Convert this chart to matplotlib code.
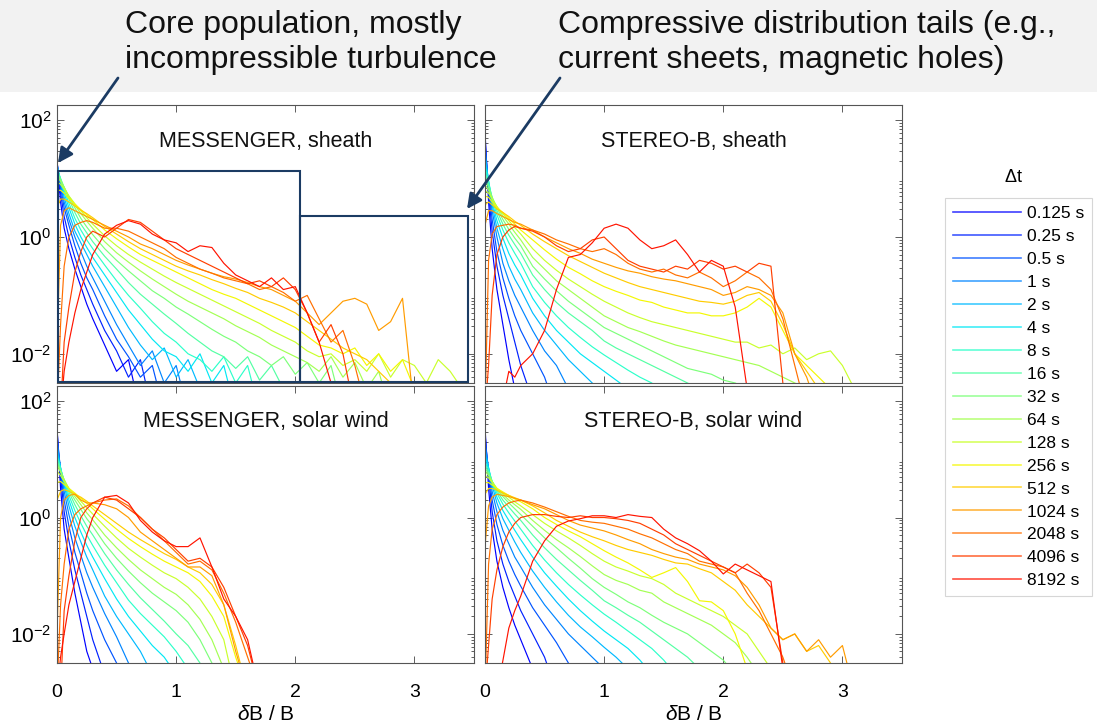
"""PDFs of dB/B for a range of time lags, MESSENGER vs STEREO-B, sheath vs solar wind."""
import numpy as np
import matplotlib
matplotlib.use("Agg")
import matplotlib.pyplot as plt
from matplotlib.patches import Rectangle, FancyArrowPatch
from matplotlib.lines import Line2D
from matplotlib.ticker import LogLocator, NullFormatter, FixedLocator

plt.rcParams['font.family'] = ['Liberation Sans', 'DejaVu Sans']
plt.rcParams['mathtext.fontset'] = 'custom'
plt.rcParams['mathtext.rm'] = 'Liberation Sans'
plt.rcParams['mathtext.it'] = 'Liberation Sans:italic'

W, H = 1097, 722
NAVY = "#1b3b63"

DT_LABELS = ["0.125 s", "0.25 s", "0.5 s", "1 s", "2 s", "4 s", "8 s", "16 s",
             "32 s", "64 s", "128 s", "256 s", "512 s", "1024 s", "2048 s",
             "4096 s", "8192 s"]

# dB/B sample points shared by all curves
X_GRID = [0, 0.03, 0.06, 0.1, 0.15, 0.2, 0.25, 0.3, 0.4, 0.5, 0.6, 0.7, 0.8,
          0.9, 1.0, 1.1, 1.2, 1.3, 1.4, 1.5, 1.6, 1.7, 1.8, 1.9, 2.0, 2.1,
          2.2, 2.3, 2.4, 2.5, 2.6, 2.7, 2.8, 2.9, 3.0, 3.1, 3.2, 3.3, 3.4]

# log10(PDF), one row per time lag (a row stops where
# the curve leaves the bottom of the axes)
mes_sheath = [
    [1.3, 0.6, 0.15, -0.2, -0.55, -0.85, -1.15, -1.4, -1.85, -2.3, -2.1, -3],
    [1.3, 0.75, 0.35, 0.0, -0.35, -0.65, -0.9, -1.15, -1.6, -1.95, -2.4, -2.1, -3],
    [1.28, 0.85, 0.5, 0.2, -0.15, -0.45, -0.7, -0.9, -1.35, -1.75, -2.05, -2.4, -2.2, -3],
    [1.25, 0.9, 0.6, 0.3, 0.0, -0.25, -0.5, -0.7, -1.1, -1.5, -1.85, -2.2, -1.95, -2.5, -2.2, -3],
    [1.22, 0.95, 0.68, 0.4, 0.1, -0.1, -0.3, -0.5, -0.85, -1.2, -1.55, -1.85, -2.1, -1.9, -2.4, -2.1, -2.6, -3],
    [1.2, 0.98, 0.75, 0.5, 0.22, 0.0, -0.18, -0.35, -0.65, -0.95, -1.25, -1.5, -1.75, -1.95, -2.05, -2.3, -2.0, -2.5, -2.2, -3],
    [1.18, 1.0, 0.8, 0.58, 0.32, 0.12, -0.05, -0.2, -0.48, -0.75, -1.0, -1.22, -1.45, -1.65, -1.8, -2.0, -2.1, -2.3, -2.05, -2.5, -2.2, -3],
    [1.15, 1.0, 0.85, 0.65, 0.42, 0.22, 0.07, -0.08, -0.33, -0.55, -0.78, -0.98, -1.15, -1.32, -1.48, -1.65, -1.8, -1.95, -2.05, -2.25, -2.05, -2.45, -2.2, -2.6, -3],
    [1.1, 0.98, 0.85, 0.68, 0.5, 0.32, 0.17, 0.04, -0.2, -0.4, -0.58, -0.75, -0.92, -1.05, -1.2, -1.32, -1.45, -1.58, -1.7, -1.8, -1.95, -2.05, -2.2, -2.05, -2.35, -2.15, -2.5, -2.2, -3],
    [1.05, 0.95, 0.85, 0.7, 0.55, 0.4, 0.27, 0.15, -0.08, -0.27, -0.43, -0.58, -0.72, -0.85, -0.98, -1.1, -1.2, -1.3, -1.4, -1.52, -1.62, -1.72, -1.85, -1.95, -2.05, -2.15, -2.3, -2.05, -2.4, -2.15, -2.6, -2.3, -3],
    [0.95, 0.9, 0.82, 0.7, 0.57, 0.45, 0.33, 0.22, 0.02, -0.15, -0.3, -0.43, -0.55, -0.67, -0.78, -0.88, -0.98, -1.08, -1.18, -1.28, -1.38, -1.48, -1.6, -1.7, -1.8, -1.95, -2.05, -2.0, -2.2, -2.1, -2.3, -2.0, -2.4, -2.1, -2.2, -2.5, -2.1, -2.3, -2.6],
    [0.8, 0.8, 0.75, 0.66, 0.56, 0.47, 0.38, 0.3, 0.12, -0.03, -0.17, -0.3, -0.4, -0.5, -0.6, -0.7, -0.8, -0.9, -0.98, -1.05, -1.15, -1.25, -1.35, -1.45, -1.55, -1.7, -1.85, -1.9, -2.0, -1.9, -2.2, -2.0, -2.3, -2.1, -2.6, -3],
    [0.5, 0.65, 0.65, 0.6, 0.53, 0.46, 0.4, 0.33, 0.18, 0.05, -0.08, -0.2, -0.3, -0.4, -0.5, -0.58, -0.65, -0.73, -0.8, -0.88, -0.95, -1.05, -1.12, -1.2, -1.3, -1.45, -1.6, -1.75, -1.9, -2.0, -2.1, -2.3, -2.5, -3],
    [-2.0, 0.2, 0.45, 0.5, 0.45, 0.4, 0.35, 0.3, 0.2, 0.1, 0.0, -0.12, -0.2, -0.3, -0.4, -0.48, -0.55, -0.62, -0.68, -0.72, -0.78, -0.85, -0.9, -1.0, -1.1, -1.3, -1.5, -1.3, -1.1, -1.05, -1.15, -1.6, -1.45, -1.05, -3],
    [-3, -1.5, -0.5, 0.0, 0.2, 0.25, 0.28, 0.25, 0.15, 0.15, 0.1, 0.0, -0.1, -0.2, -0.35, -0.45, -0.55, -0.62, -0.7, -0.75, -0.8, -0.9, -0.85, -0.95, -1.1, -1.0, -1.4, -1.8, -1.6, -2.2, -3],
    [-3, -3, -1.8, -1.2, -0.6, -0.25, 0.0, 0.1, 0.0, 0.15, 0.3, 0.25, 0.1, -0.05, -0.2, -0.3, -0.4, -0.5, -0.6, -0.7, -0.8, -0.75, -0.85, -0.7, -0.9, -1.3, -1.8, -1.5, -2.0, -3],
    [-3, -3, -2.3, -1.8, -1.3, -0.9, -0.6, -0.3, 0.05, 0.2, 0.28, 0.22, 0.05, -0.05, -0.1, -0.25, -0.15, -0.18, -0.45, -0.65, -0.75, -0.85, -0.7, -0.9, -0.85, -1.3, -1.8, -2.5, -3],
]

stb_sheath = [
    [1.8, 0.6, -0.2, -0.9, -1.5, -2.1, -2.6, -3],
    [1.7, 0.75, 0.1, -0.5, -1.0, -1.4, -1.8, -2.2, -2.8, -3],
    [1.6, 0.85, 0.3, -0.25, -0.7, -1.05, -1.35, -1.6, -2.0, -2.4, -3],
    [1.5, 0.9, 0.45, 0.0, -0.45, -0.75, -1.0, -1.2, -1.6, -1.95, -2.2, -2.6, -3],
    [1.4, 0.95, 0.55, 0.15, -0.2, -0.5, -0.72, -0.9, -1.3, -1.6, -1.85, -2.1, -2.3, -2.5, -2.7, -3],
    [1.3, 0.95, 0.6, 0.28, -0.02, -0.28, -0.48, -0.65, -1.05, -1.35, -1.6, -1.8, -2.0, -2.15, -2.3, -2.45, -2.6, -3],
    [1.2, 0.95, 0.65, 0.38, 0.12, -0.1, -0.28, -0.45, -0.85, -1.12, -1.35, -1.55, -1.72, -1.88, -2.02, -2.15, -2.28, -2.4, -2.5, -2.7, -3],
    [1.1, 0.9, 0.68, 0.45, 0.22, 0.03, -0.13, -0.28, -0.65, -0.9, -1.12, -1.3, -1.45, -1.6, -1.78, -1.9, -2.0, -2.1, -2.2, -2.3, -2.4, -2.5, -2.6, -2.8, -3],
    [1.0, 0.85, 0.68, 0.5, 0.3, 0.13, -0.02, -0.15, -0.5, -0.72, -0.92, -1.1, -1.25, -1.4, -1.55, -1.65, -1.75, -1.85, -1.95, -2.05, -2.15, -2.25, -2.3, -2.35, -2.45, -2.5, -2.6, -2.7, -2.9, -3],
    [0.9, 0.8, 0.66, 0.52, 0.36, 0.22, 0.08, -0.05, -0.35, -0.55, -0.75, -0.9, -1.05, -1.2, -1.35, -1.45, -1.55, -1.62, -1.7, -1.78, -1.85, -1.9, -1.95, -2.0, -2.05, -2.1, -2.15, -2.2, -2.3, -2.4, -2.5, -2.6, -2.8, -3],
    [0.8, 0.75, 0.65, 0.52, 0.4, 0.28, 0.16, 0.05, -0.2, -0.4, -0.57, -0.72, -0.85, -0.98, -1.1, -1.2, -1.3, -1.38, -1.45, -1.5, -1.55, -1.6, -1.65, -1.7, -1.75, -1.8, -1.8, -1.9, -1.85, -2.0, -1.9, -2.1, -2.0, -1.95, -2.2, -2.6, -3],
    [0.7, 0.68, 0.6, 0.5, 0.42, 0.32, 0.22, 0.12, -0.05, -0.22, -0.38, -0.52, -0.63, -0.75, -0.85, -0.93, -1.0, -1.08, -1.12, -1.2, -1.25, -1.3, -1.3, -1.35, -1.35, -1.3, -1.2, -1.05, -1.2, -1.6, -2.0, -2.2, -2.4, -2.6, -3],
    [0.55, 0.6, 0.55, 0.48, 0.42, 0.35, 0.27, 0.2, 0.05, -0.08, -0.2, -0.32, -0.42, -0.52, -0.62, -0.7, -0.78, -0.85, -0.9, -0.95, -1.0, -1.05, -1.1, -1.12, -1.15, -1.1, -1.0, -0.95, -1.1, -1.5, -2.0, -2.3, -2.6, -3],
    [0.2, 0.45, 0.45, 0.4, 0.35, 0.3, 0.25, 0.22, 0.12, 0.0, -0.1, -0.2, -0.28, -0.38, -0.45, -0.52, -0.58, -0.62, -0.68, -0.72, -0.75, -0.8, -0.85, -0.9, -1.0, -0.95, -0.85, -0.9, -1.0, -1.3, -2.0, -2.4, -3],
    [-3, -0.4, 0.05, 0.18, 0.2, 0.22, 0.2, 0.15, 0.12, 0.05, -0.05, -0.12, -0.2, -0.25, -0.2, -0.3, -0.45, -0.55, -0.6, -0.55, -0.65, -0.7, -0.6, -0.7, -0.85, -0.75, -0.6, -0.7, -0.9, -1.4, -2.2, -3],
    [-3, -2.2, -1.0, -0.3, 0.0, 0.12, 0.18, 0.15, 0.1, 0.0, -0.15, -0.25, -0.2, -0.05, 0.0, -0.2, -0.4, -0.5, -0.55, -0.6, -0.5, -0.55, -0.4, -0.45, -0.55, -0.5, -0.6, -0.45, -0.5, -2.5, -3],
    [-3, -3, -3, -3, -2.8, -2.3, -2.4, -2.2, -2.0, -1.6, -0.9, -0.35, -0.3, -0.1, 0.15, 0.22, 0.15, -0.05, -0.2, -0.15, -0.05, -0.3, -0.6, -0.4, -0.5, -1.2, -2.6, -3],
]

mes_wind = [
    [1.55, 0.5, -0.2, -0.7, -1.3, -1.8, -2.3, -2.6, -3],
    [1.5, 0.7, 0.1, -0.4, -0.9, -1.3, -1.7, -2.1, -2.7, -3],
    [1.4, 0.8, 0.3, -0.15, -0.6, -0.95, -1.3, -1.6, -2.1, -2.5, -3],
    [1.3, 0.85, 0.45, 0.05, -0.35, -0.65, -0.95, -1.2, -1.65, -2.05, -2.5, -3],
    [1.2, 0.85, 0.55, 0.2, -0.15, -0.42, -0.68, -0.9, -1.35, -1.7, -2.0, -2.3, -2.7, -3],
    [1.1, 0.85, 0.6, 0.3, 0.0, -0.25, -0.48, -0.68, -1.05, -1.4, -1.7, -1.95, -2.2, -2.4, -2.7, -3],
    [1.05, 0.85, 0.62, 0.38, 0.12, -0.1, -0.3, -0.48, -0.82, -1.12, -1.42, -1.65, -1.85, -2.05, -2.3, -2.6, -3],
    [1.0, 0.82, 0.64, 0.44, 0.22, 0.03, -0.15, -0.3, -0.62, -0.9, -1.15, -1.38, -1.58, -1.78, -2.0, -2.2, -2.5, -3],
    [0.95, 0.8, 0.65, 0.48, 0.3, 0.14, -0.02, -0.15, -0.45, -0.7, -0.92, -1.12, -1.3, -1.45, -1.6, -1.8, -2.1, -2.5, -3],
    [0.9, 0.78, 0.65, 0.5, 0.36, 0.22, 0.08, -0.04, -0.3, -0.52, -0.72, -0.9, -1.05, -1.2, -1.32, -1.5, -1.75, -2.1, -2.6, -3],
    [0.8, 0.72, 0.62, 0.5, 0.4, 0.28, 0.17, 0.06, -0.15, -0.35, -0.53, -0.68, -0.82, -0.95, -1.05, -1.2, -1.4, -1.7, -2.1, -3],
    [0.6, 0.62, 0.57, 0.5, 0.42, 0.33, 0.25, 0.15, -0.03, -0.2, -0.36, -0.5, -0.63, -0.75, -0.85, -0.95, -1.1, -1.35, -1.7, -2.4, -3],
    [0.3, 0.45, 0.48, 0.45, 0.4, 0.35, 0.28, 0.2, 0.05, -0.1, -0.25, -0.38, -0.5, -0.62, -0.72, -0.85, -0.95, -1.15, -1.5, -2.2, -3],
    [-2.0, 0.0, 0.3, 0.38, 0.4, 0.3, 0.25, 0.25, 0.22, 0.15, 0.0, -0.25, -0.4, -0.55, -0.7, -0.85, -0.85, -1.0, -1.5, -2.3, -3],
    [-3, -1.5, -0.8, -0.2, 0.05, 0.15, 0.2, 0.25, 0.3, 0.32, 0.2, 0.0, -0.2, -0.4, -0.6, -0.8, -0.75, -0.9, -1.3, -1.8, -2.4, -3],
    [-3, -3, -1.6, -1.0, -0.4, 0.0, 0.15, 0.25, 0.35, 0.3, 0.15, 0.0, -0.2, -0.35, -0.55, -0.75, -0.7, -0.85, -1.2, -1.7, -2.2, -3],
    [-3, -2.4, -2.0, -1.5, -1.1, -0.7, -0.3, 0.0, 0.35, 0.38, 0.25, -0.05, -0.25, -0.4, -0.5, -0.5, -0.35, -0.85, -1.4, -1.7, -2.1, -3],
]

stb_wind = [
    [1.55, 0.5, -0.2, -0.75, -1.2, -1.55, -1.85, -2.1, -2.6, -3],
    [1.45, 0.7, 0.1, -0.4, -0.8, -1.1, -1.35, -1.6, -2.0, -2.4, -3],
    [1.35, 0.8, 0.3, -0.12, -0.48, -0.75, -0.98, -1.18, -1.55, -1.85, -2.15, -2.5, -3],
    [1.25, 0.85, 0.45, 0.1, -0.22, -0.45, -0.68, -0.85, -1.2, -1.5, -1.75, -2.0, -2.2, -2.4, -2.6, -3],
    [1.15, 0.85, 0.55, 0.25, -0.02, -0.22, -0.42, -0.6, -0.92, -1.2, -1.45, -1.68, -1.88, -2.05, -2.23, -2.4, -2.6, -3],
    [1.05, 0.85, 0.6, 0.35, 0.12, -0.05, -0.22, -0.38, -0.68, -0.95, -1.18, -1.4, -1.6, -1.78, -1.95, -2.1, -2.25, -2.45, -2.7, -3],
    [0.95, 0.82, 0.62, 0.42, 0.23, 0.08, -0.06, -0.2, -0.48, -0.73, -0.95, -1.15, -1.33, -1.5, -1.66, -1.8, -1.95, -2.1, -2.25, -2.45, -2.7, -3],
    [0.9, 0.78, 0.62, 0.46, 0.3, 0.18, 0.06, -0.05, -0.3, -0.52, -0.72, -0.9, -1.08, -1.25, -1.43, -1.55, -1.68, -1.8, -1.95, -2.1, -2.25, -2.4, -2.6, -2.8, -3],
    [0.85, 0.75, 0.62, 0.48, 0.36, 0.25, 0.15, 0.05, -0.15, -0.35, -0.52, -0.7, -0.87, -1.05, -1.2, -1.32, -1.45, -1.55, -1.68, -1.8, -1.9, -2.0, -2.15, -2.3, -2.45, -2.7, -3],
    [0.8, 0.72, 0.62, 0.5, 0.4, 0.3, 0.22, 0.14, -0.05, -0.22, -0.38, -0.52, -0.67, -0.83, -0.98, -1.08, -1.15, -1.25, -1.3, -1.45, -1.55, -1.65, -1.75, -1.85, -2.0, -2.15, -2.4, -2.7, -3],
    [0.72, 0.68, 0.6, 0.5, 0.42, 0.35, 0.27, 0.2, 0.05, -0.1, -0.23, -0.35, -0.48, -0.62, -0.75, -0.85, -0.92, -1.0, -1.05, -1.15, -1.3, -1.4, -1.5, -1.6, -1.7, -1.85, -2.0, -2.3, -2.6, -3],
    [0.6, 0.6, 0.56, 0.5, 0.44, 0.38, 0.32, 0.27, 0.15, 0.0, -0.12, -0.23, -0.33, -0.45, -0.57, -0.68, -0.78, -0.9, -1.03, -0.95, -0.86, -1.1, -1.43, -1.45, -1.6, -2.0, -2.6, -3],
    [0.4, 0.5, 0.5, 0.47, 0.42, 0.38, 0.34, 0.3, 0.2, 0.08, -0.05, -0.15, -0.25, -0.33, -0.4, -0.48, -0.55, -0.6, -0.65, -0.72, -0.78, -0.8, -0.88, -0.95, -1.1, -1.25, -1.5, -1.7, -1.9, -2.1, -2.0, -2.3, -2.2, -2.5, -3],
    [-0.5, 0.2, 0.35, 0.4, 0.38, 0.36, 0.33, 0.3, 0.22, 0.15, 0.05, -0.05, -0.13, -0.18, -0.23, -0.3, -0.38, -0.45, -0.55, -0.62, -0.68, -0.72, -0.8, -0.85, -0.9, -1.0, -1.2, -1.5, -1.9, -2.1, -2.0, -2.3, -2.1, -2.4, -2.2, -3],
    [-3, -0.8, -0.2, 0.05, 0.18, 0.25, 0.28, 0.3, 0.25, 0.18, 0.1, 0.02, -0.05, -0.08, -0.1, -0.15, -0.2, -0.28, -0.35, -0.45, -0.55, -0.62, -0.75, -0.8, -0.85, -0.95, -1.3, -1.6, -2.0, -2.4, -3],
    [-3, -2.2, -1.4, -0.9, -0.5, -0.25, -0.1, 0.0, 0.05, 0.05, 0.02, 0.0, 0.03, 0.0, 0.0, -0.02, -0.05, -0.1, -0.2, -0.3, -0.45, -0.55, -0.65, -0.75, -0.85, -0.95, -0.8, -0.95, -1.2, -2.5, -3],
    [-3, -3, -3, -3, -2.46, -1.9, -1.6, -1.35, -0.75, -0.4, -0.15, -0.06, -0.02, 0.03, 0.03, 0.0, 0.05, 0.02, 0.0, -0.2, -0.35, -0.45, -0.57, -0.75, -0.97, -0.8, -0.9, -1.0, -1.1, -2.6, -3],
]

PANELS = [
    # data, title, (left, top, right, bottom) in pixels, y labels, x labels
    (mes_sheath, "MESSENGER, sheath", (57, 105, 474, 383), True, False),
    (stb_sheath, "STEREO-B, sheath", (485, 105, 902, 383), False, False),
    (mes_wind, "MESSENGER, solar wind", (57, 386, 474, 663), True, True),
    (stb_wind, "STEREO-B, solar wind", (485, 386, 902, 663), False, True),
]

YMIN, YMAX = 10 ** -2.5, 10 ** 2.26
colors = plt.cm.jet(np.linspace(0.11, 0.89, len(DT_LABELS)))


def fx(px):
    return px / W


def fy(py):
    return 1 - py / H


fig = plt.figure(figsize=(W / 100, H / 100), dpi=100)
fig.patches.append(Rectangle((0, fy(92)), 1, 1 - fy(92), transform=fig.transFigure,
                             facecolor="#f2f2f2", edgecolor="none", zorder=-10))

axes = []
for data, title, (l, t, r, b), ylab, xlab in PANELS:
    ax = fig.add_axes([fx(l), fy(b), fx(r) - fx(l), fy(t) - fy(b)])
    for i, row in enumerate(data):
        ax.plot(X_GRID[:len(row)], 10 ** np.array(row), color=colors[i], lw=0.85)
    ax.set_yscale("log")
    ax.set_xlim(0, 3.5)
    ax.set_ylim(YMIN, YMAX)
    ax.xaxis.set_major_locator(FixedLocator([0, 1, 2, 3]))
    ax.yaxis.set_major_locator(FixedLocator([1e-2, 1e0, 1e2]))
    ax.yaxis.set_minor_locator(LogLocator(base=10, subs=np.arange(2, 10)))
    ax.yaxis.set_minor_formatter(NullFormatter())
    ax.tick_params(which="both", direction="in", top=True, right=True,
                   color="#444444", width=0.6)
    ax.tick_params(which="major", length=5)
    ax.tick_params(which="minor", length=2.5)
    ax.tick_params(axis="x", labelsize=14, pad=15)
    ax.tick_params(axis="y", labelsize=15, pad=4)
    if ylab:
        ax.set_yticklabels([r"$10^{-2}$", r"$10^{0}$", r"$10^{2}$"])
    else:
        ax.set_yticklabels([])
    if xlab:
        ax.set_xticklabels(["0", "1", "2", "3"])
        ax.set_xlabel(r"$\delta$B / B", fontsize=15, labelpad=3)
    else:
        ax.set_xticklabels([])
    for sp in ax.spines.values():
        sp.set_color("#555555")
        sp.set_linewidth(0.8)
    ax.text(0.5, 1 - 36 / (b - t), title, transform=ax.transAxes, ha="center",
            va="center", fontsize=15.5, color="#111111")
    axes.append(ax)

# highlight boxes in the MESSENGER sheath panel
ax0 = axes[0]
ax0.add_patch(Rectangle((0.01, YMIN * 1.03), 2.03, 13.5 - YMIN * 1.03, fill=False,
                        edgecolor=NAVY, lw=1.5, zorder=20))
ax0.add_patch(Rectangle((2.04, YMIN * 1.03), 1.41, 2.3 - YMIN * 1.03, fill=False,
                        edgecolor=NAVY, lw=1.5, zorder=20))

# header annotations
hdr = dict(fontsize=23, va="baseline", ha="left", color="#111111")
fig.text(fx(125), fy(33), "Core population, mostly", **hdr)
fig.text(fx(125), fy(68), "incompressible turbulence", **hdr)
fig.text(fx(558), fy(33), "Compressive distribution tails (e.g.,", **hdr)
fig.text(fx(558), fy(68), "current sheets, magnetic holes)", **hdr)

for (x0, y0), (x1, y1) in [((118, 78), (58, 163)), ((560, 78), (467, 209))]:
    fig.add_artist(FancyArrowPatch((fx(x0), fy(y0)), (fx(x1), fy(y1)),
                                   transform=fig.transFigure, arrowstyle="-|>",
                                   mutation_scale=22, lw=2, color=NAVY,
                                   shrinkA=0, shrinkB=0, zorder=30))

# legend
handles = [Line2D([], [], color=c, lw=1.2, alpha=0.75) for c in colors]
fig.text(fx(1013), fy(177), r"$\Delta$t", fontsize=13, ha="center", va="center")
leg = fig.legend(handles, DT_LABELS, loc="upper left",
                 bbox_to_anchor=(fx(945), fy(198)), fontsize=12.5,
                 frameon=True, fancybox=False, edgecolor="#cccccc",
                 handlelength=3.9, handletextpad=0.35, labelspacing=0.45,
                 borderpad=0.45, borderaxespad=0)
leg.get_frame().set_linewidth(0.8)

fig.savefig("out.png", dpi=100)
